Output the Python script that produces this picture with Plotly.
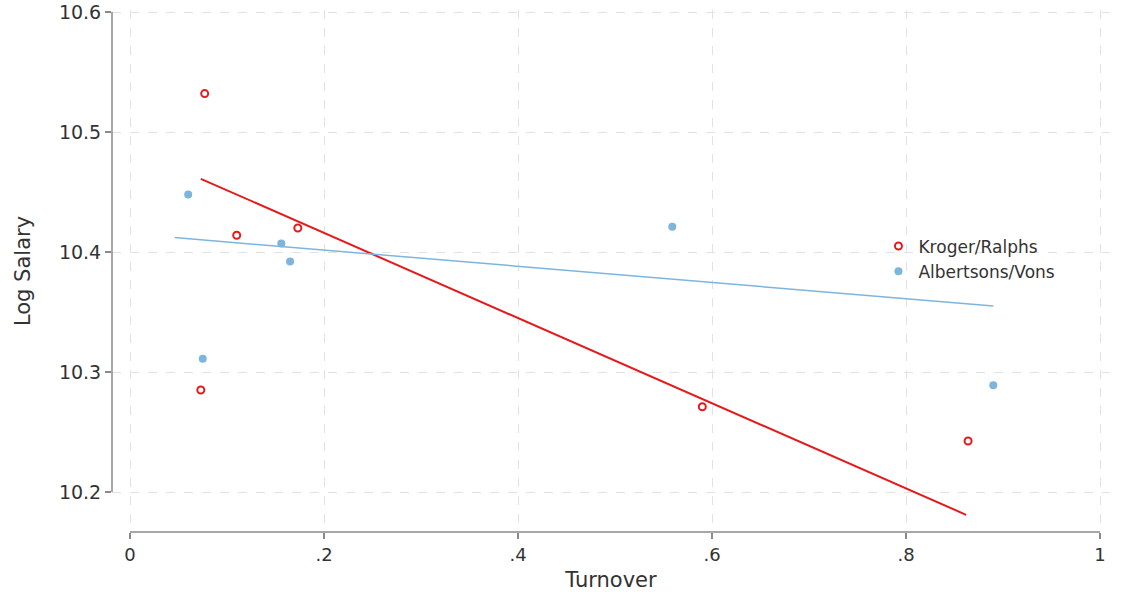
import plotly.graph_objects as go

# Data
kroger_x = [0.077, 0.110, 0.173, 0.073, 0.590, 0.864]
kroger_y = [10.532, 10.414, 10.420, 10.285, 10.271, 10.2425]
albert_x = [0.060, 0.156, 0.165, 0.075, 0.559, 0.890]
albert_y = [10.448, 10.407, 10.392, 10.311, 10.421, 10.289]

# Fitted lines (endpoints)
kroger_fit_x = [0.073, 0.862]
kroger_fit_y = [10.461, 10.181]
albert_fit_x = [0.046, 0.890]
albert_fit_y = [10.412, 10.355]

x_ticks = [0, 0.2, 0.4, 0.6, 0.8, 1]
x_ticktext = ["0", ".2", ".4", ".6", ".8", "1"]
y_ticks = [10.2, 10.3, 10.4, 10.5, 10.6]
y_ticktext = ["10.2", "10.3", "10.4", "10.5", "10.6"]

RED = "#e41a1c"
BLUE = "#7db5dc"
AXIS = "#8a8a8a"
TEXT = "#333333"
FONT = "DejaVu Sans, Liberation Sans, Arial, sans-serif"

fig = go.Figure()
fig.add_trace(go.Scatter(x=kroger_fit_x, y=kroger_fit_y, mode="lines",
                         line=dict(color=RED, width=2), showlegend=False, hoverinfo="skip"))
fig.add_trace(go.Scatter(x=albert_fit_x, y=albert_fit_y, mode="lines",
                         line=dict(color=BLUE, width=1.5), showlegend=False, hoverinfo="skip"))
fig.add_trace(go.Scatter(x=kroger_x, y=kroger_y, mode="markers", name="Kroger/Ralphs",
                         marker=dict(symbol="circle-open", size=7, color=RED, line=dict(width=2, color=RED))))
fig.add_trace(go.Scatter(x=albert_x, y=albert_y, mode="markers", name="Albertsons/Vons",
                         marker=dict(symbol="circle", size=8, color=BLUE)))

# offset axis lines (Stata style)
fig.add_shape(type="line", xref="paper", yref="y", x0=0, x1=0, y0=y_ticks[0], y1=y_ticks[-1],
              line=dict(color=AXIS, width=1.5))
fig.add_shape(type="line", xref="x", yref="paper", x0=x_ticks[0], x1=x_ticks[-1], y0=0, y1=0,
              line=dict(color=AXIS, width=1.5))

fig.update_layout(
    width=1122, height=592,
    margin=dict(l=112, r=12, t=10, b=60, autoexpand=False),
    paper_bgcolor="white", plot_bgcolor="white",
    font=dict(family=FONT, size=18, color=TEXT),
    legend=dict(x=0.768, y=0.523, xanchor="left", yanchor="middle",
                bgcolor="rgba(0,0,0,0)", font=dict(family=FONT, size=17, color=TEXT),
                itemwidth=30, tracegroupgap=0),
    xaxis=dict(range=[-18/970, 980/970], tickvals=x_ticks, ticktext=x_ticktext,
               showgrid=True, gridcolor="#e2e2e2", griddash="dash", gridwidth=1,
               zeroline=False, showline=False, ticks="outside", ticklen=6,
               tickcolor=AXIS, tickwidth=1.5, automargin=False,
               tickfont=dict(family=FONT, size=18, color=TEXT),
               title=dict(text="Turnover", font=dict(family=FONT, size=21, color=TEXT), standoff=8)),
    yaxis=dict(range=[10.2 - 40/1200, 10.6 + 2/1200], tickvals=y_ticks, ticktext=y_ticktext,
               showgrid=True, gridcolor="#e2e2e2", griddash="dash", gridwidth=1,
               zeroline=False, showline=False, ticks="outside", ticklen=6,
               tickcolor=AXIS, tickwidth=1.5, automargin=False,
               tickfont=dict(family=FONT, size=19, color=TEXT),
               title=dict(text="Log Salary", font=dict(family=FONT, size=21, color=TEXT), standoff=22)),
)

fig.write_html("out.html")
